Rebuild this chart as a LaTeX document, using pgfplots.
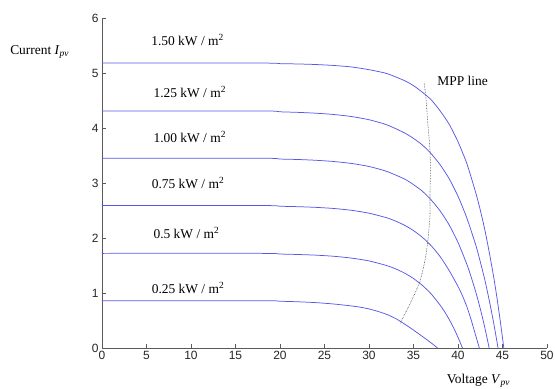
\documentclass[border=0pt]{standalone}
\usepackage{fontspec}
\setmainfont{Liberation Serif}
\setsansfont{Liberation Sans}
\usepackage{pgfplots}
\pgfplotsset{compat=1.18}

\definecolor{ivblue}{RGB}{88,88,232}
\definecolor{axgray}{RGB}{90,90,90}

\newcommand{\lbl}{\fontsize{13.5}{15}\selectfont}
\newcommand{\irr}[1]{#1 kW / m\textsuperscript{2}}

\pgfplotsset{ivcurve/.style={ivblue, line width=0.75pt, solid, no marks, smooth, tension=0.4}}

\begin{document}
\begin{tikzpicture}
\begin{axis}[
  scale only axis,
  width=445bp, height=330bp,
  xmin=0, xmax=50, ymin=0, ymax=6,
  axis x line=bottom, axis y line=left,
  axis line style={-, draw=axgray, line width=0.8pt},
  tick align=inside,
  tick style={axgray, line width=0.6pt},
  xtick={0,5,...,50}, ytick={0,1,...,6},
  /pgf/number format/assume math mode=true,
  tick label style={font=\sffamily\fontsize{12}{13}\selectfont, text=black!85},
  clip=false,
]
% I-V curves for six irradiance levels
% 1.50 kW/m^2
\addplot[ivcurve] coordinates {(0,5.18)(18,5.18)(20,5.17)(22,5.164)(24,5.154)(26,5.137)(28,5.11)(30,5.06)(32,4.99)(34,4.86)(35,4.77)(36,4.65)(37,4.51)(38,4.31)(39,4.07)(40,3.75)(41,3.35)(42,2.82)(42.5,2.51)(43,2.16)(43.5,1.75)(44,1.30)(44.4,0.89)(44.8,0.43)(45.15,0)};
% 1.25 kW/m^2
\addplot[ivcurve] coordinates {(0,4.31)(18,4.31)(20,4.294)(22,4.284)(24,4.269)(26,4.246)(28,4.209)(30,4.15)(32,4.058)(34,3.91)(35,3.81)(36,3.69)(37,3.53)(38,3.33)(39,3.08)(40,2.76)(41,2.36)(42,1.87)(42.5,1.57)(43,1.25)(43.5,0.875)(44,0.463)(44.5,0)};
% 1.00 kW/m^2
\addplot[ivcurve] coordinates {(0,3.45)(18,3.45)(20,3.435)(22,3.427)(24,3.413)(26,3.391)(28,3.356)(30,3.30)(32,3.21)(34,3.071)(35,2.97)(36,2.85)(37,2.69)(38,2.49)(39,2.24)(40,1.92)(41,1.52)(41.5,1.28)(42,1.016)(42.5,0.716)(43,0.38)(43.5,0)};
% 0.75 kW/m^2
\addplot[ivcurve] coordinates {(0,2.59)(18,2.59)(20,2.577)(22,2.569)(24,2.557)(26,2.537)(28,2.504)(30,2.451)(32,2.367)(33,2.307)(34,2.231)(35,2.134)(36,2.012)(37,1.857)(38,1.66)(39,1.41)(40,1.12)(40.5,0.95)(41,0.75)(41.5,0.5)(42,0.22)(42.4,0)};
% 0.50 kW/m^2
\addplot[ivcurve] coordinates {(0,1.72)(18,1.72)(20,1.708)(22,1.70)(24,1.688)(26,1.668)(28,1.635)(30,1.583)(32,1.498)(33,1.438)(34,1.361)(35,1.263)(36,1.138)(37,0.98)(38,0.778)(38.5,0.658)(39,0.522)(39.5,0.368)(40,0.195)(40.5,0)};
% 0.25 kW/m^2
\addplot[ivcurve] coordinates {(0,0.86)(18,0.86)(20,0.85)(22,0.84)(24,0.825)(26,0.80)(28,0.765)(29,0.742)(30,0.71)(31,0.665)(32,0.61)(33,0.535)(34,0.435)(35,0.325)(36,0.21)(37,0.09)(37.7,0)};
% maximum power point locus
\addplot[black!75, line width=0.6pt, densely dotted, smooth, tension=0.4] coordinates {(33.5,0.45)(34.6,0.8)(35.7,1.2)(36.3,1.6)(36.6,1.93)(36.85,2.4)(36.85,2.78)(36.9,3.2)(36.85,3.6)(36.6,4.1)(36.4,4.55)(36.2,4.82)};

\node[anchor=west, font=\lbl] at (axis cs:5.15,5.6) {\irr{1.50}};
\node[anchor=west, font=\lbl] at (axis cs:5.4,4.65) {\irr{1.25}};
\node[anchor=west, font=\lbl] at (axis cs:5.4,3.84) {\irr{1.00}};
\node[anchor=west, font=\lbl] at (axis cs:5.2,3.0) {\irr{0.75}};
\node[anchor=west, font=\lbl] at (axis cs:5.4,2.09) {\irr{0.5}};
\node[anchor=west, font=\lbl] at (axis cs:5.2,1.09) {\irr{0.25}};
\node[anchor=west, font=\lbl] at (axis cs:37.3,4.85) {MPP line};

\node[font=\lbl] at (axis cs:-7.0,5.38) {Current \textit{I}\textsubscript{\textit{pv}}};
\node[font=\lbl] at (axis cs:42.3,-0.6) {Voltage \textit{V}\textsubscript{\textit{pv}}};

\coordinate (bl) at (axis cs:-11.46,-0.745);
\coordinate (tr) at (axis cs:50.9,6.327);
\end{axis}
\pgfresetboundingbox
\path[use as bounding box] (bl) rectangle (tr);
\end{tikzpicture}
\end{document}
